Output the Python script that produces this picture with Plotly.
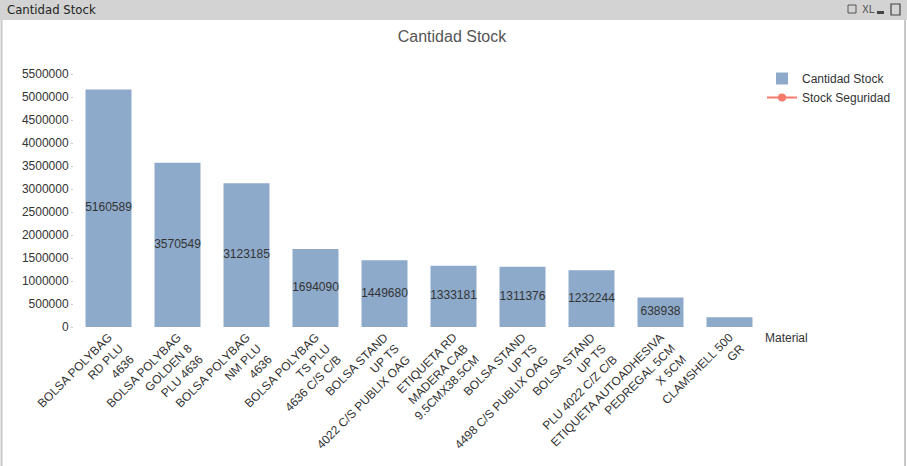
import plotly.graph_objects as go

materials = [
    "BOLSA POLYBAG<br>RD PLU<br>4636",
    "BOLSA POLYBAG<br>GOLDEN 8<br>PLU 4636",
    "BOLSA POLYBAG<br>NM PLU<br>4636",
    "BOLSA POLYBAG<br>TS PLU<br>4636 C/S C/B",
    "BOLSA STAND<br>UP TS<br>4022 C/S PUBLIX OAG",
    "ETIQUETA RD<br>MADERA CAB<br>9.5CMX38.5CM",
    "BOLSA STAND<br>UP TS<br>4498 C/S PUBLIX OAG",
    "BOLSA STAND<br>UP TS<br>PLU 4022 C/Z C/B",
    "ETIQUETA AUTOADHESIVA<br>PEDREGAL 5CM<br>X 5CM",
    "CLAMSHELL 500<br>GR",
]
cantidad_stock = [5160589, 3570549, 3123185, 1694090, 1449680, 1333181, 1311376, 1232244, 638938, 210000]
stock_seguridad = [None, None, None, None, None, None, None, None, None, None]
y_ticks = [0, 500000, 1000000, 1500000, 2000000, 2500000, 3000000, 3500000, 4000000, 4500000, 5000000, 5500000]

W, H = 907, 466
L, R, T, B = 74, 143, 74, 139
PW, PH = W - L - R, H - T - B


def px(x):
    return (x - L) / PW


def py(y):
    return (H - B - y) / PH


FONT = "Liberation Sans, Arial, sans-serif"
TXT = "#333333"

fig = go.Figure()
fig.add_trace(go.Bar(
    x=materials, y=cantidad_stock, name="Cantidad Stock",
    marker=dict(color="#8eaaca", line=dict(width=0)),
    hoverinfo="x+y",
))
fig.add_trace(go.Scatter(
    x=materials, y=stock_seguridad, name="Stock Seguridad",
    mode="lines+markers", line=dict(color="#f47a6b", width=2),
    marker=dict(color="#f47a6b", size=8),
))
labels = [str(v) if v > 300000 else "" for v in cantidad_stock]
fig.add_trace(go.Scatter(
    x=materials, y=[v / 2 for v in cantidad_stock], text=labels,
    mode="text", textfont=dict(family=FONT, size=12, color=TXT),
    showlegend=False, hoverinfo="skip",
))

shapes = [
    dict(type="rect", xref="paper", yref="paper", x0=px(0), x1=px(W), y0=py(20), y1=py(0),
         fillcolor="#d3d3d3", line=dict(width=0), layer="below"),
    dict(type="line", xref="paper", yref="paper", x0=px(1.5), x1=px(1.5), y0=py(20), y1=py(H),
         line=dict(color="#c8c8c8", width=2)),
    dict(type="line", xref="paper", yref="paper", x0=px(905), x1=px(905), y0=py(20), y1=py(H),
         line=dict(color="#c8c8c8", width=2)),
    dict(type="rect", xref="paper", yref="paper", x0=px(848), x1=px(856), y0=py(13), y1=py(5),
         line=dict(color="#555", width=1)),
    dict(type="rect", xref="paper", yref="paper", x0=px(877), x1=px(884), y0=py(14), y1=py(11),
         fillcolor="#444", line=dict(width=0)),
    dict(type="rect", xref="paper", yref="paper", x0=px(891), x1=px(900), y0=py(15), y1=py(4),
         line=dict(color="#444", width=1.2)),
]

annotations = [
    dict(text="Cantidad Stock", xref="paper", yref="paper", x=px(5), y=py(10),
         xanchor="left", yanchor="middle", showarrow=False,
         font=dict(family="DejaVu Sans Condensed, Liberation Sans Narrow, sans-serif", size=13, color="#222")),
    dict(text="XL", xref="paper", yref="paper", x=px(860), y=py(10),
         xanchor="left", yanchor="middle", showarrow=False,
         font=dict(family="DejaVu Sans Condensed, sans-serif", size=11, color="#555")),
    dict(text="Material", xref="paper", yref="paper", x=px(763), y=py(338),
         xanchor="left", yanchor="middle", showarrow=False,
         font=dict(family=FONT, size=12, color=TXT)),
]

fig.update_layout(
    width=W, height=H,
    margin=dict(l=L, r=R, t=T, b=B, autoexpand=False),
    paper_bgcolor="white", plot_bgcolor="white",
    title=dict(text="Cantidad Stock", x=452 / W, xref="container", xanchor="center",
               y=1 - 36 / H, yref="container", yanchor="middle",
               font=dict(family=FONT, size=16, color="#555555")),
    bargap=1 / 3,
    showlegend=True,
    legend=dict(x=px(762), y=py(64), xanchor="left", yanchor="top",
                font=dict(family=FONT, size=12, color=TXT),
                bgcolor="rgba(0,0,0,0)", tracegroupgap=0, itemwidth=30),
    shapes=shapes,
    annotations=annotations,
    font=dict(family=FONT, size=12, color=TXT),
)
fig.update_xaxes(
    range=[-0.5, len(materials) - 0.5],
    tickangle=-45, showgrid=False, zeroline=False, showline=False,
    tickfont=dict(family=FONT, size=12, color=TXT), ticks="",
)
fig.update_yaxes(
    range=[0, 5500000], tickvals=y_ticks, ticktext=[str(v) for v in y_ticks],
    showgrid=False, zeroline=False, showline=False,
    ticks="outside", ticklen=2, tickcolor="#cccccc",
    tickfont=dict(family=FONT, size=12, color=TXT),
)

fig.write_html("out.html", config={"displayModeBar": False},
               post_script="document.body.style.margin='0';document.body.style.overflow='hidden';")
